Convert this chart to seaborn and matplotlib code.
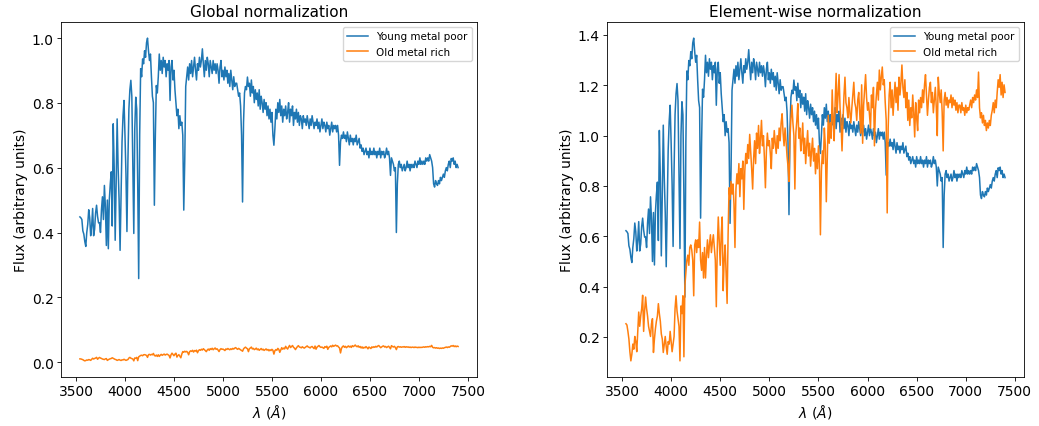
import numpy as np
import matplotlib
matplotlib.use("Agg")
import matplotlib.pyplot as plt
import seaborn as sns

# Wavelength grid of the two spectra (Angstrom)
wavelength = np.arange(3540, 7401, 10)

# Young, metal-poor population (arbitrary flux units)
young_flux = np.array([
    .448, .445, .44, .405, .395, .372, .357, .40, .425, .47,
    .445, .39, .42, .474, .39, .41, .46, .484, .45, .43,
    .43, .40, .47, .51, .44, .545, .48, .36, .50, .35,
    .50, .55, .587, .42, .735, .60, .376, .55, .75, .60,
    .50, .345, .52, .68, .76, .807, .70, .58, .403, .62,
    .78, .84, .869, .82, .60, .397, .72, .817, .78, .55,
    .258, .70, .905, .88, .935, .92, .96, .94, .985, .999,
    .96, .93, .95, .88, .82, .80, .484, .70, .853, .83,
    .88, .95, .90, .93, .89, .94, .91, .93, .88, .92,
    .90, .93, .807, .91, .93, .87, .90, .84, .80, .76,
    .78, .72, .76, .73, .74, .70, .469, .62, .85, .88,
    .91, .87, .92, .89, .93, .88, .91, .94, .90, .87,
    .92, .90, .94, .91, .93, .966, .92, .88, .93, .90,
    .94, .92, .88, .93, .91, .89, .93, .90, .92, .89,
    .92, .90, .86, .91, .93, .88, .90, .87, .91, .88,
    .90, .86, .89, .85, .90, .87, .84, .88, .85, .86,
    .86, .84, .82, .83, .79, .70, .494, .74, .83, .85,
    .84, .879, .85, .86, .82, .87, .83, .85, .80, .84,
    .81, .83, .79, .84, .78, .82, .80, .77, .81, .78,
    .80, .76, .79, .75, .78, .74, .77, .70, .669, .72,
    .78, .75, .80, .77, .81, .76, .79, .74, .78, .76,
    .79, .75, .77, .80, .74, .78, .76, .79, .73, .77,
    .75, .78, .74, .77, .73, .76, .75, .72, .76, .74,
    .75, .73, .76, .74, .72, .75, .73, .76, .74, .72,
    .74, .73, .75, .72, .74, .71, .73, .75, .72, .74,
    .73, .71, .74, .72, .73, .70, .72, .74, .71, .73,
    .72, .73, .71, .73, .70, .607, .68, .70, .69, .71,
    .69, .70, .68, .71, .69, .67, .70, .68, .69, .67,
    .69, .68, .70, .67, .68, .69, .66, .67, .65, .66,
    .64, .65, .66, .64, .65, .63, .66, .64, .65, .64,
    .66, .64, .65, .63, .65, .64, .66, .63, .65, .64,
    .65, .63, .64, .66, .64, .65, .63, .576, .63, .62,
    .61, .59, .60, .40, .55, .61, .62, .60, .61, .59,
    .60, .61, .59, .60, .62, .60, .61, .59, .61, .60,
    .61, .60, .62, .61, .60, .62, .61, .63, .61, .62,
    .61, .62, .61, .63, .62, .63, .62, .64, .63, .62,
    .60, .55, .54, .56, .55, .545, .56, .55, .57, .56,
    .57, .58, .57, .59, .60, .59, .61, .62, .60, .628,
    .62, .63, .61, .62, .60, .61, .60,
])

# Old, metal-rich population (relative shape)
old_flux = np.array([
    .25, .245, .22, .19, .14, .104, .13, .17, .15, .20,
    .18, .14, .22, .296, .24, .28, .309, .362, .22, .30,
    .355, .31, .28, .24, .22, .20, .25, .27, .137, .19,
    .23, .26, .28, .329, .29, .26, .21, .19, .137, .17,
    .20, .16, .13, .18, .17, .22, .18, .14, .17, .20,
    .31, .36, .30, .27, .24, .104, .32, .29, .36, .12,
    .40, .45, .50, .52, .48, .55, .56, .54, .50, .36,
    .56, .58, .53, .58, .55, .65, .50, .46, .53, .43,
    .55, .43, .52, .58, .51, .56, .60, .53, .57, .60,
    .55, .50, .317, .55, .67, .58, .48, .60, .67, .38,
    .50, .56, .45, .33, .60, .785, .74, .81, .76, .80,
    .72, .55, .78, .84, .80, .88, .75, .86, .82, .89,
    .70, .85, .92, .88, .955, .90, .995, .93, .86, .78,
    .90, .97, .88, 1.00, .94, 1.03, .92, .98, 1.05, .95,
    .99, .90, .785, .93, 1.00, .95, .97, .92, .86, .98,
    .94, 1.01, .96, .92, .99, .94, 1.02, .97, 1.04, 1.076,
    1.00, .95, 1.02, .97, .91, .87, .81, .98, 1.06, 1.11,
    1.04, .99, .78, 1.00, 1.05, 1.116, .98, 1.02, .93, .97,
    1.04, .92, .98, .88, .95, 1.01, .91, .96, .87, .93,
    .98, .89, .94, .84, .92, .86, .95, .88, .60, .85,
    .93, .88, 1.02, .95, .73, .90, 1.07, .96, 1.04, .98,
    1.17, 1.05, .97, 1.12, 1.235, 1.08, 1.15, 1.23, 1.10, 1.04,
    .93, 1.05, 1.15, 1.22, 1.12, 1.10, 1.06, 1.14, 1.08, 1.04,
    1.10, 1.15, 1.20, 1.12, 1.10, 1.05, 1.13, 1.16, 1.08, 1.00,
    1.19, .96, 1.11, 1.17, 1.23, 1.14, 1.09, 1.12, 1.07, 1.02,
    1.15, 1.10, 1.18, .95, 1.09, 1.15, 1.20, 1.13, 1.248, 1.17,
    1.22, 1.26, 1.19, 1.21, 1.12, 1.05, .686, 1.02, 1.15, 1.20,
    1.10, 1.17, 1.07, 1.14, 1.20, 1.12, 1.18, 1.09, 1.22, 1.15,
    1.20, 1.268, 1.18, 1.14, 1.21, 1.10, 1.16, 1.05, 1.13, 1.03,
    1.10, 1.06, 1.15, 1.08, .985, 1.12, 1.06, 1.01, 1.13, 1.08,
    1.14, 1.10, 1.17, 1.12, 1.19, 1.23, 1.15, 1.07, 1.13, 1.18,
    1.20, 1.12, 1.16, 1.08, 1.13, 1.18, 1.10, .99, 1.22, 1.16,
    1.12, 1.17, 1.08, .93, 1.13, 1.16, 1.11, 1.14, 1.10, 1.13,
    1.12, 1.15, 1.10, 1.14, 1.11, 1.13, 1.09, 1.12, 1.08, 1.11,
    1.11, 1.08, 1.12, 1.09, 1.10, 1.07, 1.11, 1.08, 1.10, 1.09,
    1.11, 1.13, 1.10, 1.14, 1.12, 1.15, 1.13, 1.17, 1.14, 1.24,
    1.10, 1.06, 1.08, 1.04, 1.07, 1.03, 1.05, 1.01, 1.04, 1.02,
    1.05, 1.03, 1.07, 1.09, 1.12, 1.08, 1.13, 1.10, 1.16, 1.21,
    1.18, 1.23, 1.15, 1.20, 1.14, 1.19, 1.16,
])

# Brightness of the old population relative to the young one
old_to_young = 0.042

labels = ["Young metal poor", "Old metal rich"]
titles = ["Global normalization", "Element-wise normalization"]
colors = ["#1f77b4", "#ff7f0e"]

raw = [young_flux, old_flux * old_to_young]
common_scale = max(r.max() for r in raw)
global_norm = [r / common_scale for r in raw]
element_norm = [r / np.median(r) for r in raw]

plt.rcParams.update({
    "axes.linewidth": 0.6,
    "xtick.major.width": 0.6,
    "ytick.major.width": 0.6,
    "xtick.major.size": 2.6,
    "ytick.major.size": 2.6,
    "legend.fontsize": 7.5,
})

W, H = 1039, 427
fig = plt.figure(figsize=(W / 100, H / 100), dpi=100)
ax_left = fig.add_axes([61 / W, 49 / H, 416 / W, 355 / H])
ax_right = fig.add_axes([607 / W, 49 / H, 417 / W, 355 / H])

for ax, spectra, title in zip([ax_left, ax_right], [global_norm, element_norm], titles):
    for flux, label, color in zip(spectra, labels, colors):
        sns.lineplot(x=wavelength, y=flux, ax=ax, label=label, color=color,
                     linewidth=1.1, estimator=None, sort=False)
    ax.set_xticks(np.arange(3500, 7501, 500))
    ax.set_title(title, fontsize=11, pad=4.5)
    ax.set_xlabel(r"$\lambda$ ($\AA$)", fontsize=10, labelpad=3)
    ax.set_ylabel("Flux (arbitrary units)", fontsize=10, labelpad=3)
    ax.tick_params(labelsize=10, pad=2.6)
    ax.legend(loc="upper right", fontsize=7.5)

fig.savefig("out.png", dpi=100)
